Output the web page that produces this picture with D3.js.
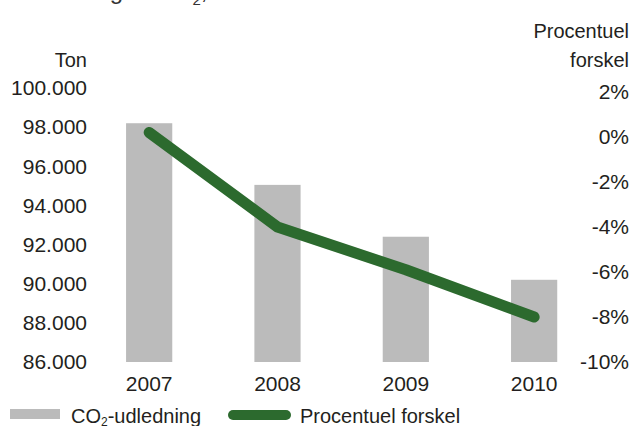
<!DOCTYPE html>
<html>
<head>
<meta charset="utf-8">
<script src="https://cdn.jsdelivr.net/npm/d3@7"></script>
<style>
  html, body { margin: 0; padding: 0; background: #fff; overflow: hidden; }
  svg { display: block; font-family: "Liberation Sans", Arial, Helvetica, sans-serif; }
</style>
</head>
<body>
<svg id="chart" width="633" height="426"></svg>
<script>
// ---- data ----
const years = ["2007", "2008", "2009", "2010"];
const emissions = [98200, 95050, 92400, 90200];          // Ton (bars)
const pctDiff = [0.2, -4.0, -5.9, -8.0];                 // Procentuel forskel (line)
const leftTicks = [86000, 88000, 90000, 92000, 94000, 96000, 98000, 100000];
const rightTicks = [-10, -8, -6, -4, -2, 0, 2];
const legendLabels = ["CO₂-udledning", "Procentuel forskel"];

const svg = d3.select("#chart");
const textColor = "#231f20";
const barColor = "#bbbbbb";
const lineColor = "#2c6a2e";

const locale = d3.formatLocale({ decimal: ",", thousands: ".", grouping: [3], currency: ["", " kr."] });
const fmtTon = locale.format(",d");

const x = d3.scaleBand().domain(years).range([85, 598.3]).paddingInner(0.64).paddingOuter(0.32);
const yL = d3.scaleLinear().domain([86000, 100000]).range([362, 88]);
const yR = d3.scaleLinear().domain([-10, 2]).range([362, 92]);

// Title (mostly clipped at top)
const title = svg.append("text").attr("x", 15).attr("y", -1)
  .attr("font-size", 24).attr("fill", "#333");
title.append("tspan").text("Udledning af CO");
title.append("tspan").attr("font-size", 15).attr("dy", 6).text("2");
title.append("tspan").attr("dy", -6).text(", koncernen");

// Axis titles
svg.append("text").attr("x", 87).attr("y", 67).attr("text-anchor", "end")
  .attr("font-size", 20).attr("fill", textColor).text("Ton");
svg.append("text").attr("x", 629).attr("y", 38).attr("text-anchor", "end")
  .attr("font-size", 20).attr("fill", textColor).text("Procentuel");
svg.append("text").attr("x", 629).attr("y", 67).attr("text-anchor", "end")
  .attr("font-size", 20).attr("fill", textColor).text("forskel");

// Left axis
const gL = svg.append("g").attr("transform", "translate(87,0)")
  .call(d3.axisLeft(yL).tickValues(leftTicks).tickFormat(fmtTon).tickSize(0).tickPadding(0));
gL.select(".domain").remove();
gL.selectAll("text").attr("font-size", 21).attr("fill", textColor)
  .attr("font-family", "Liberation Sans, Arial, sans-serif");

// Right axis
const gR = svg.append("g").attr("transform", "translate(629,0)")
  .call(d3.axisLeft(yR).tickValues(rightTicks).tickFormat(d => d + "%").tickSize(0).tickPadding(0));
gR.select(".domain").remove();
gR.selectAll("text").attr("font-size", 21).attr("fill", textColor)
  .attr("font-family", "Liberation Sans, Arial, sans-serif");

// Bottom axis labels
const gX = svg.append("g").attr("transform", "translate(0,362)")
  .call(d3.axisBottom(x).tickSize(0).tickPadding(14));
gX.select(".domain").remove();
gX.selectAll("text").attr("font-size", 21).attr("fill", textColor)
  .attr("font-family", "Liberation Sans, Arial, sans-serif");

// Bars
svg.append("g").selectAll("rect").data(years).join("rect")
  .attr("x", d => x(d))
  .attr("width", x.bandwidth())
  .attr("y", (d, i) => yL(emissions[i]))
  .attr("height", (d, i) => yL(86000) - yL(emissions[i]))
  .attr("fill", barColor);

// Line
const line = d3.line()
  .x((d, i) => x(years[i]) + x.bandwidth() / 2)
  .y(d => yR(d));
svg.append("path").datum(pctDiff)
  .attr("d", line)
  .attr("fill", "none")
  .attr("stroke", lineColor)
  .attr("stroke-width", 11)
  .attr("stroke-linecap", "round")
  .attr("stroke-linejoin", "round");

// Legend
const lg = svg.append("g");
lg.append("rect").attr("x", 10).attr("y", 409).attr("width", 50).attr("height", 10).attr("fill", barColor);
const t1 = lg.append("text").attr("x", 71).attr("y", 423).attr("font-size", 20).attr("fill", textColor);
t1.append("tspan").text("CO");
t1.append("tspan").attr("font-size", 12).attr("dy", 3).text("2");
t1.append("tspan").attr("dy", -3).text("-udledning");
lg.append("line").attr("x1", 233).attr("x2", 286).attr("y1", 415).attr("y2", 415)
  .attr("stroke", lineColor).attr("stroke-width", 10).attr("stroke-linecap", "round");
lg.append("text").attr("x", 300).attr("y", 423).attr("font-size", 20).attr("fill", textColor)
  .text(legendLabels[1]);
</script>
</body>
</html>
